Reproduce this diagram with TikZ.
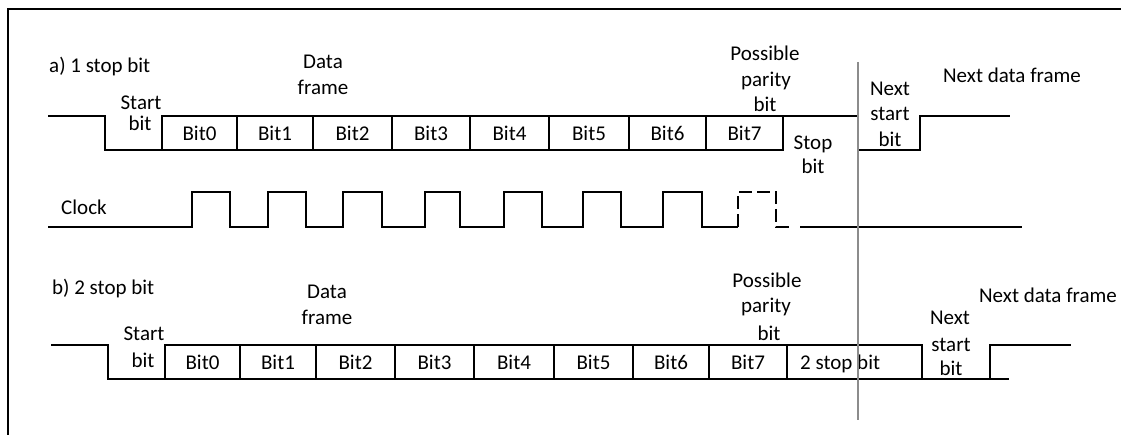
\documentclass[tikz,border=0pt]{standalone}
\usepackage{fontspec}
\setmainfont{Carlito}
\tikzset{
  sig/.style={line width=1.8pt, line join=miter},
  bitbox/.style={draw, line width=1.8pt, rectangle, minimum height=34pt, inner sep=0pt, outer sep=0pt},
  lbl/.style={anchor=base, inner sep=0pt, font=\fontsize{21}{25}\selectfont},
  frameline/.style={line width=1.8pt},
  marker/.style={line width=1.3pt, draw=black!45},
}
\begin{document}
\begin{tikzpicture}[x=1pt,y=-1pt]
\useasboundingbox (0,0) rectangle (1121,435);
% outer frame
\draw[frameline] (1121,9) -- (8,9) -- (8,435);

% ---------- row a ----------
\foreach \i/\l/\r in {0/162/237,1/237/313,2/313/392,3/392/470,4/470/549,5/549/629,6/629/706,7/706/783}
  \node[bitbox, minimum width={(\r-\l)*1pt}] (a\i) at ({(\l+\r)/2},133) {\fontsize{21}{25}\selectfont Bit\i};
\draw[sig] (48,116) -- (105,116) -- (105,150) -- (a0.south west);
\draw[sig] (a7.north east) -- (858,116) -- (858,150) -- (920,150) -- (920,116) -- (1010,116);

\node[lbl, anchor=base west] (ta) at (49,73) {a) 1 stop bit};
\node[lbl] (ad1) at (323,69) {Data};
\node[lbl] (ad2) at (323,95) {frame};
\node[lbl] (as1) at (141,110) {Start};
\node[lbl] (as2) at (140,131) {bit};
\node[lbl] (ap1) at (765,61) {Possible};
\node[lbl] (ap2) at (766,87) {parity};
\node[lbl] (ap3) at (765,112) {bit};
\node[lbl] (ast1) at (813,150) {Stop};
\node[lbl] (ast2) at (813,174) {bit};
\node[lbl] (an1) at (890,96) {Next};
\node[lbl] (an2) at (890,121) {start};
\node[lbl] (an3) at (890,147) {bit};
\node[lbl] (anf) at (1012,83) {Next data frame};

% ---------- clock ----------
\node[lbl, anchor=base west] (clk) at (61,215) {Clock};
\coordinate (c0) at (48,227);
\coordinate (c1) at (738,227);
\coordinate (c2) at (791,227);
\coordinate (c3) at (800,227);
\coordinate (c4) at (1022,227);
\draw[sig] (c0) -- (192,227) -- (192,192) -- (230,192) -- (230,227)
  -- (268,227) -- (268,192) -- (306,192) -- (306,227)
  -- (343,227) -- (343,192) -- (382,192) -- (382,227)
  -- (425,227) -- (425,192) -- (460,192) -- (460,227)
  -- (504,227) -- (504,192) -- (542,192) -- (542,227)
  -- (583,227) -- (583,192) -- (621,192) -- (621,227)
  -- (663,227) -- (663,192) -- (702,192) -- (702,227) -- (c1);
\draw[sig, dash pattern=on 13pt off 5pt] (c1) -- (738,192) -- (776,192) -- (776,227) -- (c2);
\draw[sig] (c3) -- (c4);

% ---------- row b ----------
\foreach \i/\l/\r in {0/165/240,1/240/316,2/316/395,3/395/474,4/474/554,5/554/633,6/633/709,7/709/787}
  \node[bitbox, minimum width={(\r-\l)*1pt}] (b\i) at ({(\l+\r)/2},362) {\fontsize{21}{25}\selectfont Bit\i};
\node[bitbox, minimum width=135pt] (bstop) at (854.5,362) {};
\draw[sig] (51,345) -- (108,345) -- (108,379) -- (b0.south west);
\coordinate (bend) at (1009,379);
\draw[sig] (bstop.south east) -- (bend);
\draw[sig] (990,379) -- (990,345) -- (1071,345);

\node[lbl, anchor=base west] (tb) at (52,295) {b) 2 stop bit};
\node[lbl] (bd1) at (327,299) {Data};
\node[lbl] (bd2) at (327,325) {frame};
\node[lbl] (bs1) at (144,341) {Start};
\node[lbl] (bs2) at (143,367) {bit};
\node[lbl] (bp1) at (767,288) {Possible};
\node[lbl] (bp2) at (766,313) {parity};
\node[lbl] (bp3) at (769,341) {bit};
\node[lbl, anchor=base west] (bst) at (800,370) {2 stop bit};
\node[lbl] (bn1) at (950,325) {Next};
\node[lbl] (bn2) at (951,352) {start};
\node[lbl] (bn3) at (951,375) {bit};
\node[lbl] (bnf) at (1048,303) {Next data frame};

% ---------- separator ----------
\coordinate (g1) at (858,62);
\coordinate (g2) at (858,420);
\draw[marker] (g1) -- (g2);
\end{tikzpicture}
\end{document}
